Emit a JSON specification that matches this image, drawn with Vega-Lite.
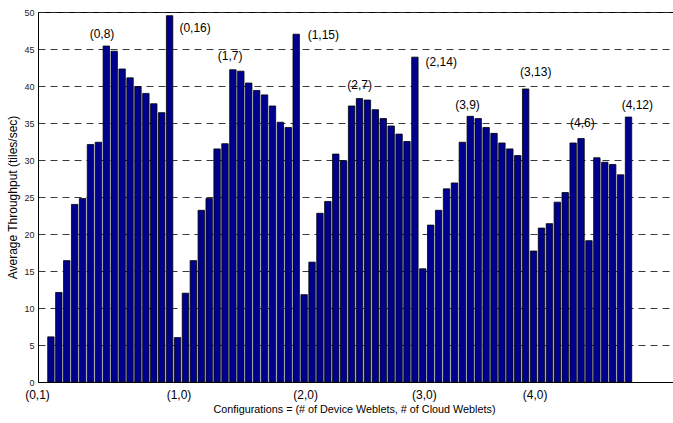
{
  "$schema": "https://vega.github.io/schema/vega-lite/v6.json",
  "width": 643,
  "height": 370,
  "autosize": {"type": "none"},
  "padding": {"left": 38, "top": 12, "right": 0, "bottom": 41},
  "background": "white",
  "config": {"view": {"stroke": "black", "strokeWidth": 1}, "font": "Liberation Sans"},
  "datasets": {
    "bars": [
      {"pos": 1, "config": "(0,1)", "value": 6.1},
      {"pos": 2, "config": "(0,2)", "value": 12.1},
      {"pos": 3, "config": "(0,3)", "value": 16.4},
      {"pos": 4, "config": "(0,4)", "value": 24.0},
      {"pos": 5, "config": "(0,5)", "value": 24.8},
      {"pos": 6, "config": "(0,6)", "value": 32.1},
      {"pos": 7, "config": "(0,7)", "value": 32.4},
      {"pos": 8, "config": "(0,8)", "value": 45.4},
      {"pos": 9, "config": "(0,9)", "value": 44.7},
      {"pos": 10, "config": "(0,10)", "value": 42.3},
      {"pos": 11, "config": "(0,11)", "value": 41.1},
      {"pos": 12, "config": "(0,12)", "value": 39.9},
      {"pos": 13, "config": "(0,13)", "value": 39.0},
      {"pos": 14, "config": "(0,14)", "value": 37.6},
      {"pos": 15, "config": "(0,15)", "value": 36.4},
      {"pos": 16, "config": "(0,16)", "value": 49.5},
      {"pos": 17, "config": "(1,0)", "value": 6.0},
      {"pos": 18, "config": "(1,1)", "value": 12.0},
      {"pos": 19, "config": "(1,2)", "value": 16.4},
      {"pos": 20, "config": "(1,3)", "value": 23.2},
      {"pos": 21, "config": "(1,4)", "value": 24.8},
      {"pos": 22, "config": "(1,5)", "value": 31.5},
      {"pos": 23, "config": "(1,6)", "value": 32.2},
      {"pos": 24, "config": "(1,7)", "value": 42.2},
      {"pos": 25, "config": "(1,8)", "value": 42.0},
      {"pos": 26, "config": "(1,9)", "value": 40.4},
      {"pos": 27, "config": "(1,10)", "value": 39.4},
      {"pos": 28, "config": "(1,11)", "value": 38.8},
      {"pos": 29, "config": "(1,12)", "value": 37.3},
      {"pos": 30, "config": "(1,13)", "value": 35.1},
      {"pos": 31, "config": "(1,14)", "value": 34.4},
      {"pos": 32, "config": "(1,15)", "value": 47.0},
      {"pos": 33, "config": "(2,0)", "value": 11.8},
      {"pos": 34, "config": "(2,1)", "value": 16.2},
      {"pos": 35, "config": "(2,2)", "value": 22.8},
      {"pos": 36, "config": "(2,3)", "value": 24.4},
      {"pos": 37, "config": "(2,4)", "value": 30.8},
      {"pos": 38, "config": "(2,5)", "value": 29.9},
      {"pos": 39, "config": "(2,6)", "value": 37.3},
      {"pos": 40, "config": "(2,7)", "value": 38.3},
      {"pos": 41, "config": "(2,8)", "value": 38.1},
      {"pos": 42, "config": "(2,9)", "value": 36.8},
      {"pos": 43, "config": "(2,10)", "value": 35.6},
      {"pos": 44, "config": "(2,11)", "value": 34.6},
      {"pos": 45, "config": "(2,12)", "value": 33.5},
      {"pos": 46, "config": "(2,13)", "value": 32.5},
      {"pos": 47, "config": "(2,14)", "value": 43.9},
      {"pos": 48, "config": "(3,0)", "value": 15.3},
      {"pos": 49, "config": "(3,1)", "value": 21.2},
      {"pos": 50, "config": "(3,2)", "value": 23.2},
      {"pos": 51, "config": "(3,3)", "value": 26.1},
      {"pos": 52, "config": "(3,4)", "value": 26.9},
      {"pos": 53, "config": "(3,5)", "value": 32.4},
      {"pos": 54, "config": "(3,6)", "value": 35.9},
      {"pos": 55, "config": "(3,7)", "value": 35.6},
      {"pos": 56, "config": "(3,8)", "value": 34.4},
      {"pos": 57, "config": "(3,9)", "value": 33.6},
      {"pos": 58, "config": "(3,10)", "value": 32.3},
      {"pos": 59, "config": "(3,11)", "value": 31.5},
      {"pos": 60, "config": "(3,12)", "value": 30.6},
      {"pos": 61, "config": "(3,13)", "value": 39.6},
      {"pos": 62, "config": "(4,0)", "value": 17.7},
      {"pos": 63, "config": "(4,1)", "value": 20.8},
      {"pos": 64, "config": "(4,2)", "value": 21.4},
      {"pos": 65, "config": "(4,3)", "value": 24.3},
      {"pos": 66, "config": "(4,4)", "value": 25.6},
      {"pos": 67, "config": "(4,5)", "value": 32.3},
      {"pos": 68, "config": "(4,6)", "value": 32.9},
      {"pos": 69, "config": "(4,7)", "value": 19.1},
      {"pos": 70, "config": "(4,8)", "value": 30.3},
      {"pos": 71, "config": "(4,9)", "value": 29.7},
      {"pos": 72, "config": "(4,10)", "value": 29.4},
      {"pos": 73, "config": "(4,11)", "value": 28.0},
      {"pos": 74, "config": "(4,12)", "value": 35.8}
    ],
    "notes": [
      {"pos": 7.46, "value": 47.0, "label": "(0,8)"},
      {"pos": 19.22, "value": 47.8, "label": "(0,16)"},
      {"pos": 23.64, "value": 44.1, "label": "(1,7)"},
      {"pos": 35.43, "value": 46.9, "label": "(1,15)"},
      {"pos": 40.02, "value": 40.1, "label": "(2,7)"},
      {"pos": 50.33, "value": 43.3, "label": "(2,14)"},
      {"pos": 53.65, "value": 37.5, "label": "(3,9)"},
      {"pos": 62.27, "value": 41.9, "label": "(3,13)"},
      {"pos": 68.16, "value": 35.0, "label": "(4,6)"},
      {"pos": 75.11, "value": 37.5, "label": "(4,12)"}
    ]
  },
  "encoding": {
    "x": {
      "field": "pos", "type": "quantitative",
      "scale": {"domain": [0, 80], "nice": false, "zero": false},
      "axis": {
        "values": [0, 17, 33, 48, 62],
        "labelExpr": "datum.value == 0 ? '(0,1)' : datum.value == 17 ? '(1,0)' : datum.value == 33 ? '(2,0)' : datum.value == 48 ? '(3,0)' : '(4,0)'",
        "labelOffset": {"expr": "datum.value == 0 ? -6 : 1"},
        "grid": false, "ticks": false,
        "domainColor": "black", "domainWidth": 1,
        "labelFont": "Liberation Sans", "labelFontSize": 12, "labelColor": "black", "labelPadding": 7,
        "title": "Configurations = (# of Device Weblets, # of Cloud Weblets)",
        "titleFont": "Liberation Sans", "titleFontSize": 10.8, "titleFontWeight": "normal", "titleColor": "black", "titlePadding": 3,
        "titleX": 316
      }
    },
    "y": {
      "field": "value", "type": "quantitative",
      "scale": {"domain": [0, 50], "nice": false},
      "axis": {
        "values": [0, 5, 10, 15, 20, 25, 30, 35, 40, 45, 50],
        "labelOverlap": false,
        "grid": true, "gridDash": [7, 5], "gridColor": "#222", "gridWidth": 0.9,
        "ticks": false, "domainColor": "black", "domainWidth": 1,
        "labelFont": "Liberation Sans", "labelFontSize": 9, "labelColor": "#222", "labelPadding": 4,
        "title": "Average Throughput (tiles/sec)",
        "titleFont": "Liberation Sans", "titleFontSize": 12, "titleFontWeight": "normal", "titleColor": "black", "titlePadding": 4
      }
    }
  },
  "layer": [
    {
      "data": {"name": "bars"},
      "mark": {"type": "bar", "fill": "#00008F", "stroke": "black", "strokeWidth": 0.8, "width": 6.4}
    },
    {
      "data": {"name": "notes"},
      "mark": {"type": "text", "font": "Liberation Sans", "fontSize": 12, "color": "black", "align": "center", "baseline": "middle"},
      "encoding": {
        "text": {"field": "label"}
      }
    }
  ]
}
